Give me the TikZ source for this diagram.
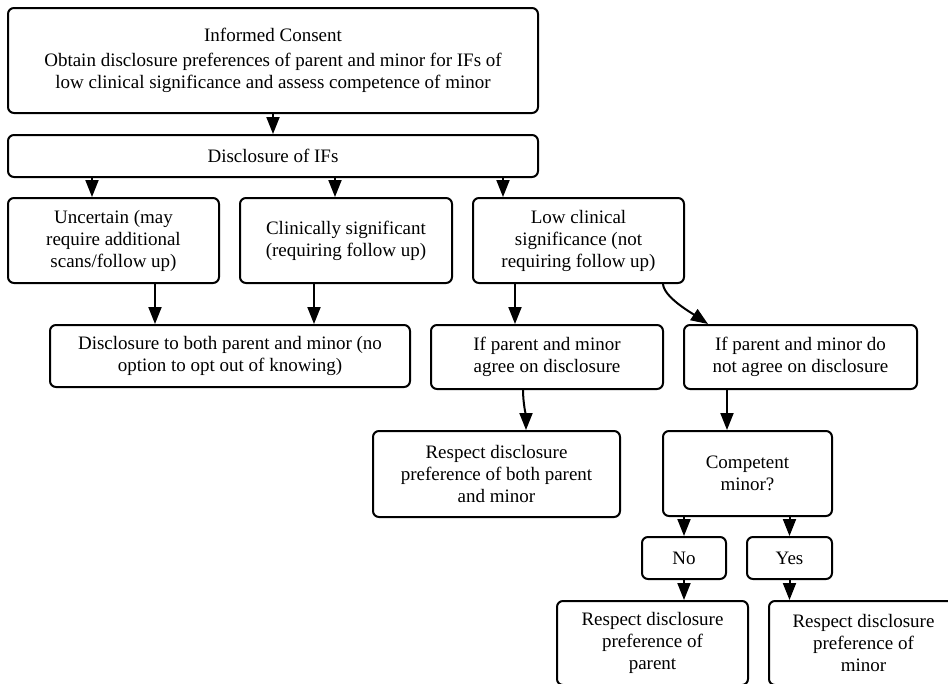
\documentclass[tikz,border=0pt]{standalone}
\usepackage{fontspec}
\setmainfont{Liberation Serif}
\usetikzlibrary{arrows.meta,calc}
\begin{document}
\begin{tikzpicture}[x=1pt,y=-1pt,
  box/.style={draw, line width=2pt, rounded corners=6pt, align=center, inner sep=0pt,
    font=\fontsize{19}{22}\selectfont},
  arr/.style={line width=2pt, -{Triangle[length=17pt,width=13pt]}}]
\useasboundingbox (0,0) rectangle (948,683);
\node[box, minimum width=530, minimum height=105] (b1) at (273,60.5)
  {Informed Consent\\[3pt]Obtain disclosure preferences of parent and minor for IFs of\\low clinical significance and assess competence of minor};
\node[box, minimum width=530, minimum height=42] (b2) at (273,156) {Disclosure of IFs};
\node[box, minimum width=211, minimum height=85] (unc) at (113.5,240.5) {Uncertain (may\\require additional\\scans/follow up)};
\node[box, minimum width=212, minimum height=85] (clin) at (346,240.5) {Clinically significant\\(requiring follow up)};
\node[box, minimum width=211, minimum height=85] (low) at (578.5,240.5) {Low clinical\\significance (not\\requiring follow up)};
\node[box, minimum width=360, minimum height=62] (both) at (230,356) {Disclosure to both parent and minor (no\\option to opt out of knowing)};
\node[box, minimum width=232, minimum height=64] (agree) at (547,357) {If parent and minor\\agree on disclosure};
\node[box, minimum width=233, minimum height=64] (nagree) at (800.5,357) {If parent and minor do\\not agree on disclosure};
\node[box, minimum width=247, minimum height=86] (rboth) at (496.5,474) {Respect disclosure\\preference of both parent\\and minor};
\node[box, minimum width=169, minimum height=85] (comp) at (747.5,473.5) {Competent\\minor?};
\node[box, minimum width=84, minimum height=42] (no) at (684,558) {No};
\node[box, minimum width=85, minimum height=42] (yes) at (789.5,558) {Yes};
\node[box, minimum width=191, minimum height=84] (rpar) at (652.5,643) {Respect disclosure\\preference of\\parent};
\node[box, minimum width=189, minimum height=84] (rmin) at (863.5,643) {Respect disclosure\\preference of\\minor};

\draw[arr] (b1.south) -- (b2.north);
\draw[arr] ([xshift=-21.5pt]unc.north |- b2.south) -- ([xshift=-21.5pt]unc.north);
\draw[arr] ([xshift=-11pt]clin.north |- b2.south) -- ([xshift=-11pt]clin.north);
\draw[arr] ([xshift=-75.5pt]low.north |- b2.south) -- ([xshift=-75.5pt]low.north);
\draw[arr] ([xshift=41.5pt]unc.south) -- ([xshift=41.5pt]unc.south |- both.north);
\draw[arr] ([xshift=-32pt]clin.south) -- ([xshift=-32pt]clin.south |- both.north);
\draw[arr] ([xshift=-63.5pt]low.south) -- ([xshift=-63.5pt]low.south |- agree.north);
\draw[arr] ([xshift=84.5pt]low.south) .. controls +(1,13) and +(-18,-12) .. ([xshift=-92.5pt]nagree.north);
\draw[arr] ([xshift=-24pt]agree.south) .. controls +(0,12) and +(0,-12) .. ([xshift=29.5pt]rboth.north);
\draw[arr] ([xshift=-73.5pt]nagree.south) -- ([xshift=-73.5pt]nagree.south |- comp.north);
\draw[arr] (no.north |- comp.south) -- (no.north);
\draw[arr] (yes.north |- comp.south) -- (yes.north);
\draw[arr] (no.south) -- (no.south |- rpar.north);
\draw[arr] (yes.south) -- (yes.south |- rmin.north);
\end{tikzpicture}
\end{document}
